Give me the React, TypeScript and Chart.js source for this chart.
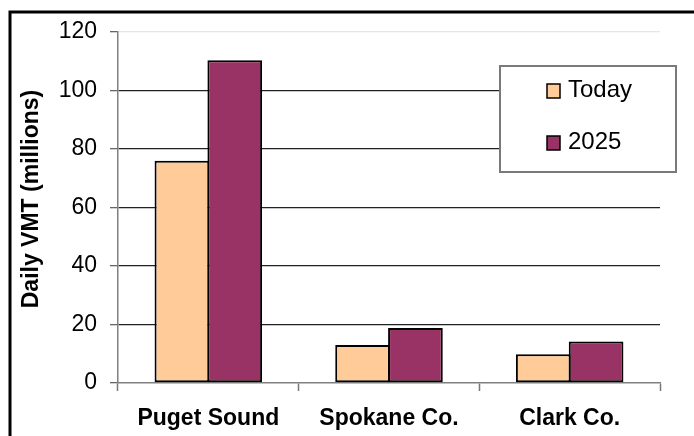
import React, { useEffect, useRef } from "react";
import { Chart, registerables } from "chart.js";

Chart.register(...registerables);

const categories = ["Puget Sound", "Spokane Co.", "Clark Co."];
const todayValues = [76, 13, 9.8];
const future2025Values = [110.3, 18.8, 14.2];
const seriesLabels = ["Today", "2025"];
const yTicks = [0, 20, 40, 60, 80, 100, 120];
const yTitle = "Daily VMT (millions)";

const FONT = "'Liberation Sans', Arial, sans-serif";

const framePlugin = {
  id: "frame",
  afterDraw(chart: any) {
    const ctx = chart.ctx;
    ctx.save();
    ctx.strokeStyle = "#000";
    ctx.lineWidth = 3;
    ctx.beginPath();
    ctx.moveTo(694, 12);
    ctx.lineTo(10, 12);
    ctx.lineTo(10, 436);
    ctx.stroke();
    // y title
    ctx.fillStyle = "#000";
    ctx.font = `bold 23px ${FONT}`;
    ctx.textAlign = "center";
    ctx.textBaseline = "middle";
    ctx.translate(32, 199);
    ctx.rotate(-Math.PI / 2);
    ctx.fillText(yTitle, 0, 0);
    ctx.restore();
  },
};

const legendPlugin = {
  id: "boxLegend",
  afterDraw(chart: any) {
    const ctx = chart.ctx;
    ctx.save();
    ctx.fillStyle = "#fff";
    ctx.fillRect(500, 66, 176, 106);
    ctx.strokeStyle = "#7a7a7a";
    ctx.lineWidth = 2;
    ctx.strokeRect(500, 66, 176, 106);
    const ys = [91, 143];
    chart.data.datasets.forEach((ds: any, i: number) => {
      const y = ys[i];
      ctx.fillStyle = ds.backgroundColor;
      ctx.fillRect(547, y - 7, 13, 14);
      ctx.strokeStyle = "#000";
      ctx.lineWidth = 1.5;
      ctx.strokeRect(547, y - 7, 13, 14);
      ctx.fillStyle = "#000";
      ctx.font = `24px ${FONT}`;
      ctx.textAlign = "left";
      ctx.textBaseline = "middle";
      ctx.fillText(ds.label, 568, y - 1);
    });
    ctx.restore();
  },
};

export default function App() {
  const ref = useRef<HTMLCanvasElement>(null);
  useEffect(() => {
    document.body.style.margin = "0";
    const chart = new Chart(ref.current as HTMLCanvasElement, {
      type: "bar",
      data: {
        labels: categories,
        datasets: [
          {
            label: seriesLabels[0],
            data: todayValues,
            backgroundColor: "#FFCC99",
            borderColor: "#000",
            borderWidth: 2,
            borderSkipped: false,
          },
          {
            label: seriesLabels[1],
            data: future2025Values,
            backgroundColor: "#993366",
            borderColor: "#000",
            borderWidth: 2,
            borderSkipped: false,
          },
        ],
      },
      options: {
        animation: false,
        responsive: false,
        devicePixelRatio: 1,
        layout: { padding: { top: 32, right: 34, left: 0, bottom: 0 } },
        datasets: { bar: { categoryPercentage: 0.585, barPercentage: 1.035 } },
        plugins: { legend: { display: false }, tooltip: { enabled: false } },
        scales: {
          x: {
            offset: true,
            afterFit: (s: any) => {
              s.height = 53;
            },
            grid: {
              offset: true,
              drawOnChartArea: false,
              drawTicks: true,
              tickLength: 8,
              tickColor: "#777",
              tickWidth: 1.5,
            },
            border: { color: "#808080", width: 1.5 },
            ticks: {
              color: "#000",
              font: { family: FONT, size: 23, weight: "bold" },
              padding: 14,
              maxRotation: 0,
            },
          },
          y: {
            min: 0,
            max: 120,
            afterFit: (s: any) => {
              s.width = 118;
            },
            afterBuildTicks: (s: any) => {
              s.ticks = yTicks.map((v) => ({ value: v }));
            },
            grid: {
              color: (c: any) =>
                c.tick && c.tick.value === 120 ? "#e6e6e6" : c.tick && c.tick.value === 0 ? "rgba(0,0,0,0)" : "#222",
              lineWidth: 1.3,
              tickLength: 8,
              tickColor: "#666",
            },
            border: { color: "#808080", width: 1.5 },
            ticks: {
              color: "#000",
              font: { family: FONT, size: 23 },
              padding: 13,
            },
          },
        },
      },
      plugins: [framePlugin, legendPlugin],
    } as any);
    return () => chart.destroy();
  }, []);
  return <canvas ref={ref} width={694} height={436} style={{ display: "block" }} />;
}
